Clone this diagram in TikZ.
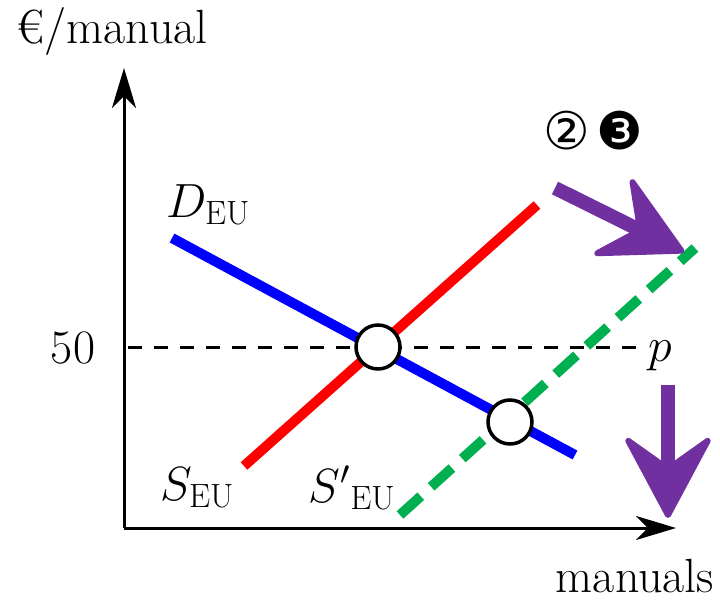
\RequirePackage{fix-cm}
\documentclass[tikz,border=0pt]{standalone}
\usepackage{fontspec}
\newfontfamily\symfont{DejaVu Sans}
\usepackage{tikz}
\usetikzlibrary{arrows.meta,positioning}
\definecolor{demandblue}{RGB}{0,0,255}
\definecolor{supplyred}{RGB}{255,0,0}
\definecolor{shiftgreen}{RGB}{0,176,80}
\definecolor{movepurple}{RGB}{112,48,160}

\begin{document}
\begin{tikzpicture}[
  x=1pt, y=-1pt,
  every node/.style={font=\fontsize{48}{56}\selectfont},
  axis/.style={line width=3pt, -{Stealth[length=40pt,width=24pt,inset=12pt]}},
  curve/.style={line width=10pt},
  eqpt/.style={circle, draw, line width=3.5pt, fill=white, minimum size=44pt, inner sep=0pt},
  move/.style={movepurple, line width=14pt, -{Stealth[length=90pt,width=96pt,inset=34pt,line width=6pt,round]}},
  badge/.style={font=\symfont\fontsize{52}{56}\selectfont, inner sep=0pt}
]
\useasboundingbox (0,0) rectangle (720,602);

% axes
\coordinate (O) at (124,528);
\coordinate (ytop) at (124,68);
\coordinate (xend) at (676,528);
\draw[axis] (O) -- (ytop);
\draw[axis] (O) -- (xend);
\node (ylab) at (112,32) {€/manual};
\node (xlab) at (635,576) {manuals};

% price line
\coordinate (pl) at (128,347);
\coordinate (pr) at (640,347);
\node (fifty) at (73,348) {50};
\node (plab) at (660,356) {$p$};
\draw[line width=3pt, dash pattern=on 14pt off 12pt] (pl) -- (pr);

% demand and supply
\coordinate (d1) at (172,238);
\coordinate (d2) at (575,455);
\coordinate (s1) at (244,466);
\coordinate (s2) at (537,205);
\coordinate (n1) at (400,515);
\coordinate (n2) at (695,248);
\draw[curve, demandblue] (d1) -- (d2);
\draw[curve, supplyred] (s1) -- (s2);
\draw[curve, shiftgreen, dash pattern=on 28pt off 14pt] (n1) -- (n2);
\node (dlab) at (208,205) {$D_{\mathrm{EU}}$};
\node (slab) at (197,488) {$S_{\mathrm{EU}}$};
\node (snlab) at (352,488) {${S'}_{\mathrm{EU}}$};

% equilibria
\node[eqpt] (eqold) at (378,347) {};
\node[eqpt] (eqnew) at (510,422) {};

% shift arrows
\node[badge] (two) at (567,131) {②};
\node[badge] (three) at (620,131) {❸};
\coordinate (m1) at (555,188);
\coordinate (m2) at (684,252);
\coordinate (v1) at (668,385);
\coordinate (v2) at (668,518);
\draw[move] (m1) -- (m2);
\draw[move] (v1) -- (v2);
\end{tikzpicture}
\end{document}
